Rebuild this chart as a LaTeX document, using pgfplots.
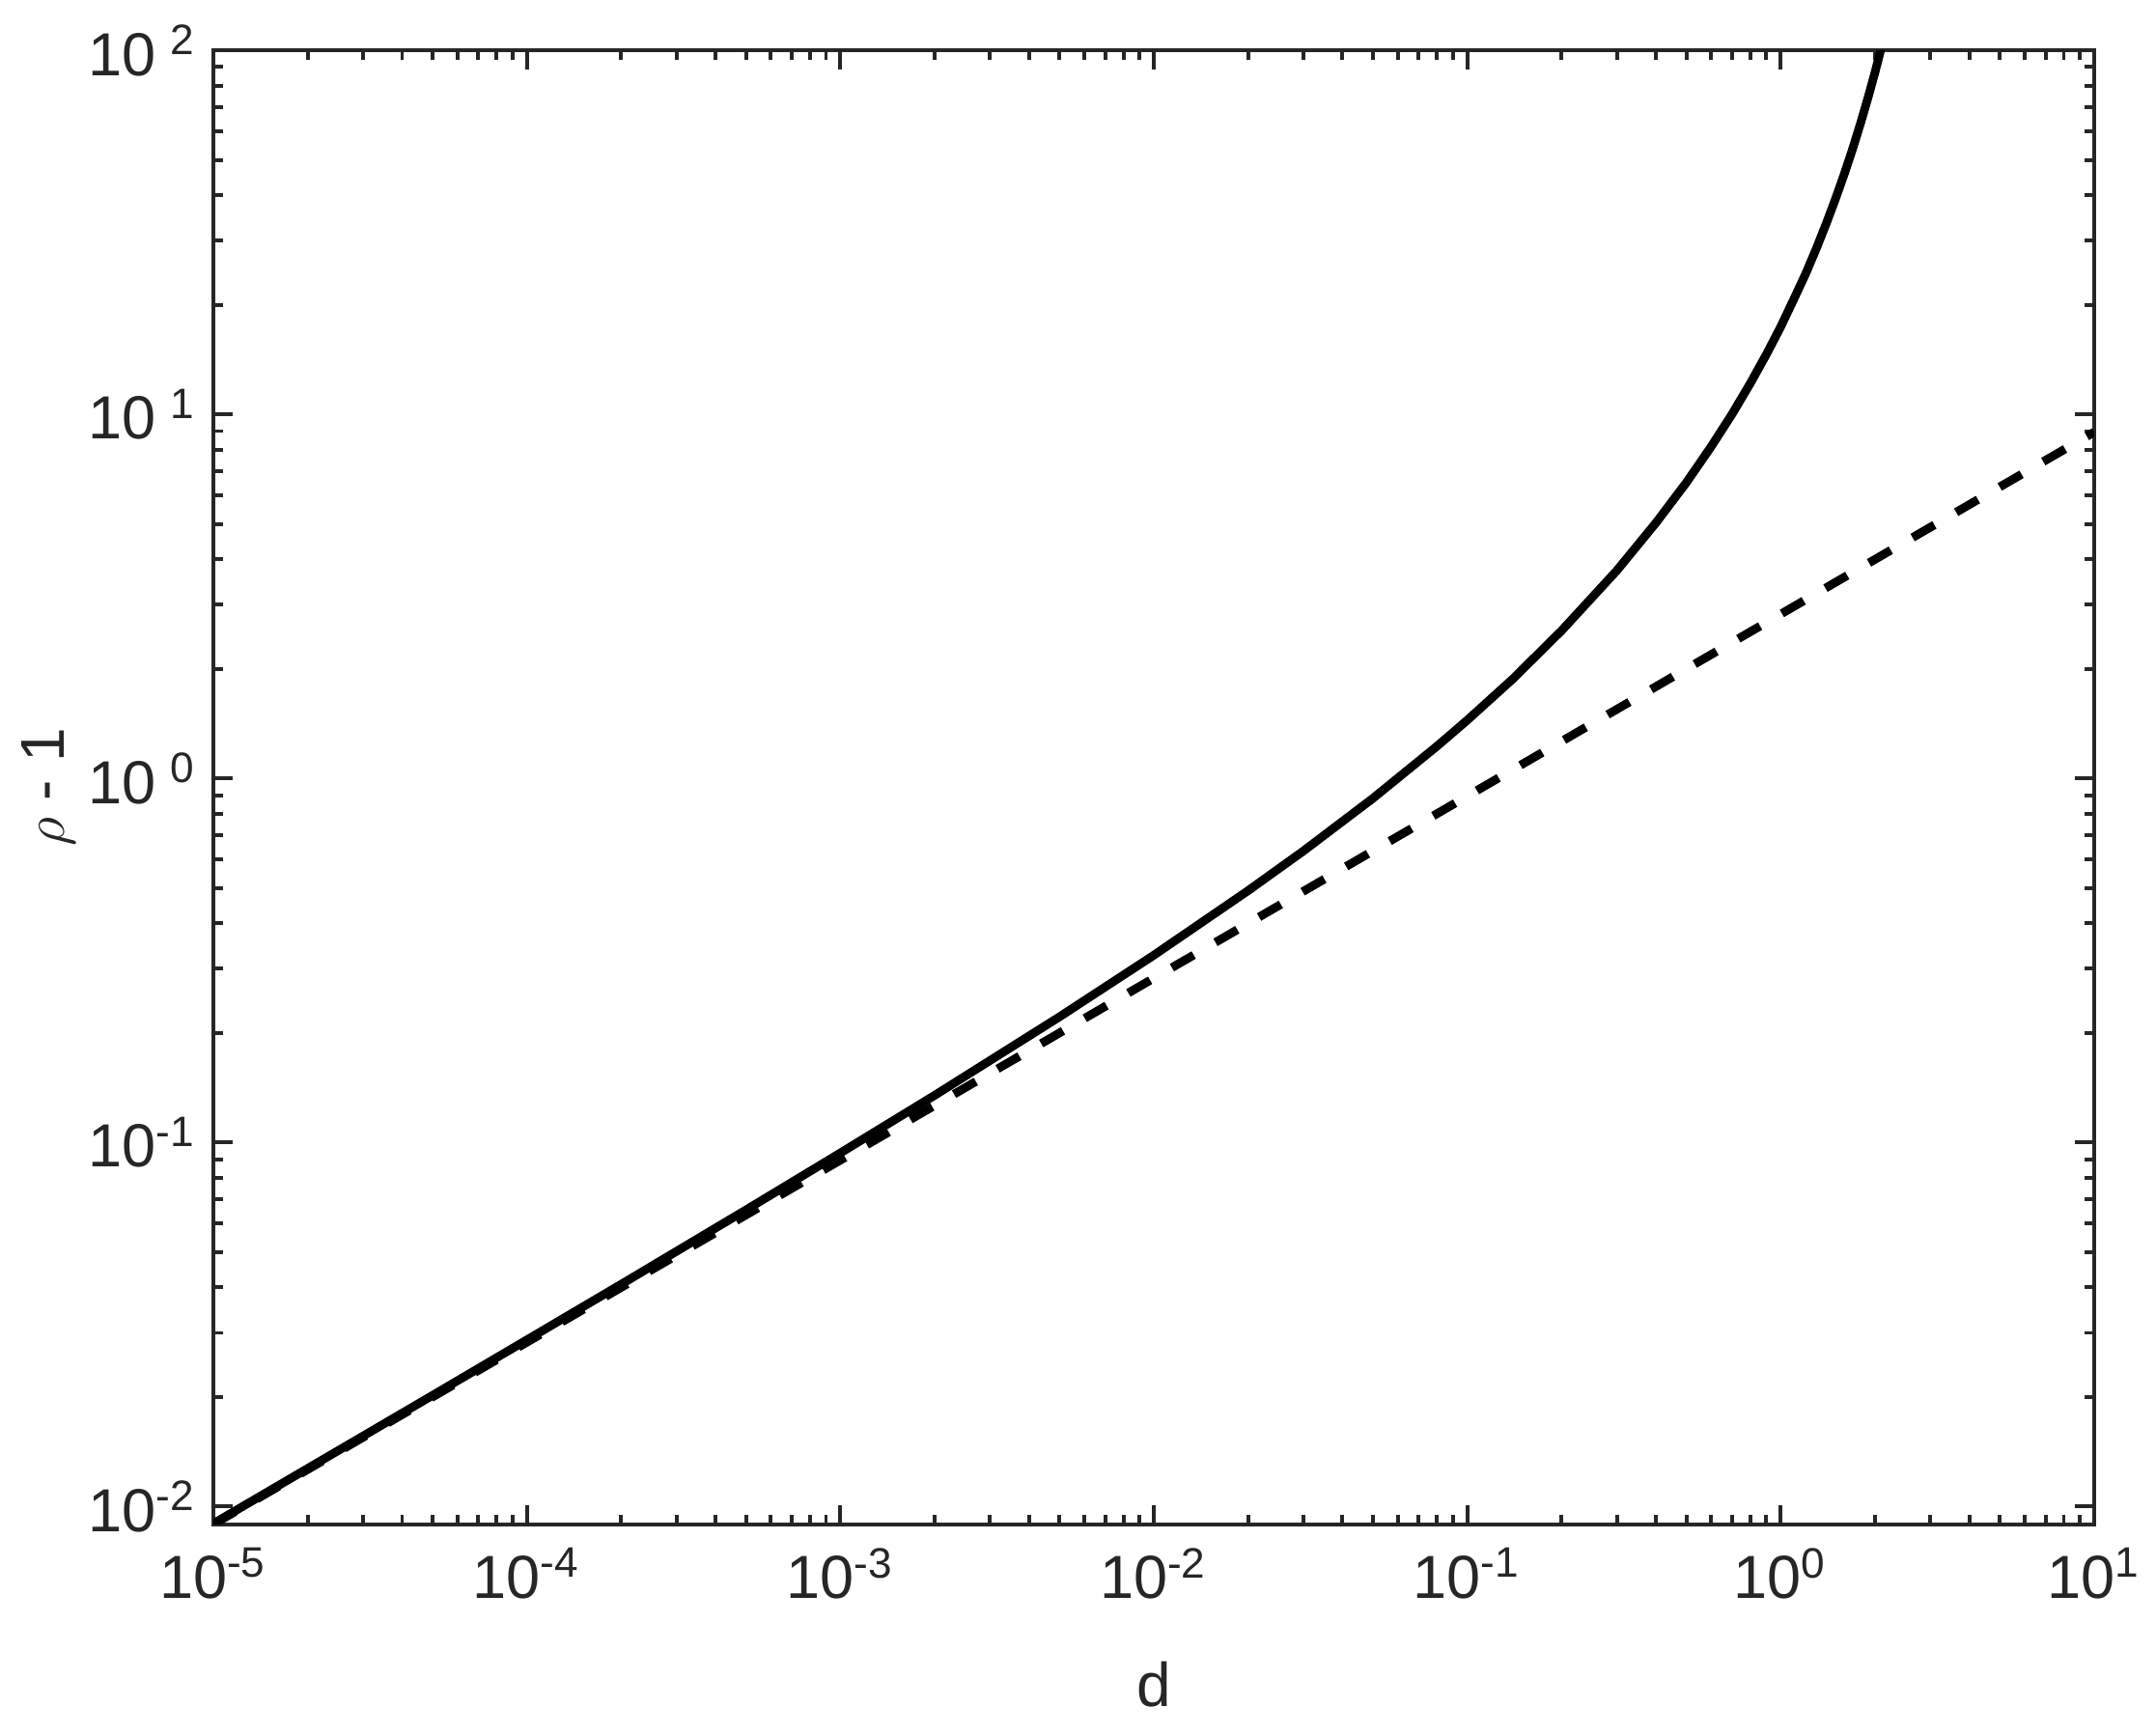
\documentclass[border=0pt]{standalone}
\usepackage{fontspec}
\setmainfont{Liberation Sans}
\usepackage{pgfplots}
\pgfplotsset{compat=1.18}
\definecolor{axgray}{rgb}{0.15,0.15,0.15}
\begin{document}
\begin{tikzpicture}
\useasboundingbox (-44.9pt,-44.3pt) rectangle (408.7pt,320.7pt);
\begin{axis}[
  at={(0,0)}, anchor=south west,
  scale only axis, width=395.7pt, height=310.1pt,
  xmode=log, ymode=log,
  xmin=1e-5, xmax=10, ymin=0.00894, ymax=100,
  xtick={1e-5,1e-4,1e-3,1e-2,1e-1,1,10},
  ytick={1e-2,1e-1,1,10,100},
  xticklabels={10\textsuperscript{-5},10\textsuperscript{-4},10\textsuperscript{-3},10\textsuperscript{-2},10\textsuperscript{-1},10\textsuperscript{0},10\textsuperscript{1}},
  yticklabels={10\textsuperscript{-2},10\textsuperscript{-1},10\textsuperscript{\phantom{-}0},10\textsuperscript{\phantom{-}1},10\textsuperscript{\phantom{-}2}},
  axis line style={axgray, line width=0.8pt},
  every tick/.style={axgray, line width=0.8pt},
  major tick length=4pt, minor tick length=2pt,
  tick label style={font=\fontsize{12.8}{15}\selectfont, text=axgray},
  xticklabel style={yshift=-1.5pt},
  label style={font=\fontsize{13}{15}\selectfont, text=axgray},
  xlabel={d}, ylabel={$\rho$ - 1},
  xlabel style={at={(rel axis cs:0.5,-0.1087)}, anchor=center},
  ylabel style={at={(rel axis cs:-0.0877,0.5)}, anchor=center},
]
\addplot[black, line width=1.8pt] table {
d r
1e-5 0.00898
2e-5 0.01273
5e-5 0.0202
1e-4 0.0287
2e-4 0.0408
5e-4 0.0653
1e-3 0.0936
2e-3 0.1348
5e-3 0.2214
1e-2 0.327
2e-2 0.492
3e-2 0.632
5e-2 0.882
0.08 1.226
0.1 1.446
0.14 1.88
0.2 2.548
0.3 3.726
0.4 5.04
0.5 6.50
0.6 8.16
0.7 10.03
0.8 12.18
0.9 14.62
1.0 17.41
1.1 20.7
1.2 24.3
1.3 28.6
1.4 33.6
1.5 39.4
1.6 46.1
1.7 54.0
1.8 63.3
1.9 74.3
2.0 87.2
2.1 102.7
};
\addplot[black, line width=1.8pt, dash pattern=on 5.3pt off 5.3pt] table {
d r
1e-5 0.008944
1e-4 0.02828
1e-3 0.08944
1e-2 0.2828
1e-1 0.8944
1 2.828
10 8.944
};
\end{axis}
\end{tikzpicture}
\end{document}
